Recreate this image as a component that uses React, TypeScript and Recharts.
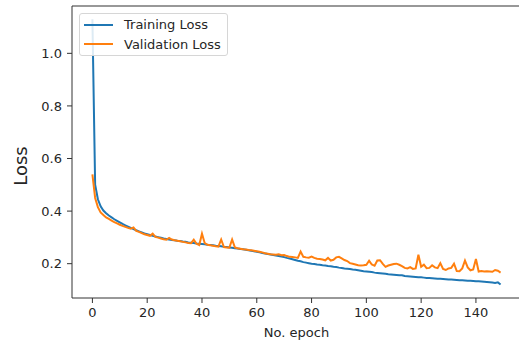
import React from "react";
import { LineChart, Line, XAxis, YAxis, Legend, ReferenceLine, Label } from "recharts";

const trainingLoss: number[] = [
  1.13, 0.50, 0.445, 0.418, 0.402, 0.392, 0.383, 0.376, 0.369, 0.363,
  0.357, 0.351, 0.346, 0.341, 0.336, 0.332, 0.327, 0.323, 0.319, 0.315,
  0.312, 0.309, 0.306, 0.303, 0.301, 0.299, 0.296, 0.294, 0.292, 0.290,
  0.289, 0.287, 0.286, 0.284, 0.283, 0.281, 0.280, 0.279, 0.277, 0.276,
  0.275, 0.274, 0.272, 0.271, 0.270, 0.268, 0.267, 0.266, 0.264, 0.263,
  0.262, 0.261, 0.259, 0.258, 0.256, 0.255, 0.253, 0.251, 0.249, 0.247,
  0.245, 0.243, 0.241, 0.239, 0.237, 0.235, 0.233, 0.231, 0.229, 0.227,
  0.225, 0.222, 0.220, 0.217, 0.214, 0.211, 0.209, 0.206, 0.204, 0.202,
  0.200, 0.199, 0.197, 0.196, 0.194, 0.193, 0.191, 0.190, 0.188, 0.187,
  0.185, 0.184, 0.182, 0.181, 0.180, 0.178, 0.177, 0.175, 0.173, 0.171,
  0.170, 0.169, 0.168, 0.166, 0.165, 0.164, 0.163, 0.162, 0.160, 0.159,
  0.158, 0.157, 0.156, 0.156, 0.153, 0.152, 0.151, 0.150, 0.149, 0.148,
  0.148, 0.147, 0.146, 0.146, 0.145, 0.144, 0.143, 0.143, 0.142, 0.141,
  0.140, 0.140, 0.139, 0.138, 0.137, 0.137, 0.136, 0.135, 0.135, 0.134,
  0.133, 0.133, 0.132, 0.131, 0.130, 0.129, 0.128, 0.127, 0.129, 0.121,
];

const validationLoss: number[] = [
  0.54, 0.45, 0.415, 0.395, 0.385, 0.376, 0.370, 0.364, 0.358, 0.353,
  0.348, 0.344, 0.340, 0.336, 0.333, 0.338, 0.325, 0.321, 0.316, 0.312,
  0.309, 0.306, 0.314, 0.302, 0.299, 0.296, 0.293, 0.291, 0.298, 0.292,
  0.289, 0.287, 0.285, 0.283, 0.281, 0.279, 0.278, 0.291, 0.276, 0.271,
  0.314, 0.278, 0.272, 0.270, 0.268, 0.266, 0.265, 0.292, 0.263, 0.262,
  0.261, 0.292, 0.262, 0.259, 0.257, 0.255, 0.254, 0.252, 0.251, 0.249,
  0.247, 0.245, 0.243, 0.240, 0.238, 0.236, 0.235, 0.234, 0.236, 0.232,
  0.233, 0.229, 0.226, 0.225, 0.224, 0.222, 0.246, 0.226, 0.224, 0.223,
  0.227, 0.222, 0.219, 0.218, 0.216, 0.213, 0.222, 0.212, 0.215, 0.224,
  0.226, 0.220, 0.214, 0.210, 0.202, 0.200, 0.197, 0.194, 0.193, 0.194,
  0.196, 0.211, 0.197, 0.192, 0.212, 0.213, 0.199, 0.188, 0.193, 0.196,
  0.199, 0.200, 0.196, 0.191, 0.184, 0.182, 0.187, 0.180, 0.182, 0.234,
  0.188, 0.196, 0.183, 0.184, 0.194, 0.186, 0.183, 0.202, 0.180, 0.176,
  0.182, 0.184, 0.200, 0.172, 0.171, 0.182, 0.212, 0.186, 0.175, 0.178,
  0.218, 0.170, 0.172, 0.170, 0.171, 0.170, 0.169, 0.176, 0.173, 0.166,
];

const xTicks: number[] = [0, 20, 40, 60, 80, 100, 120, 140];
const yTicks: number[] = [0.2, 0.4, 0.6, 0.8, 1.0];
const X_DOMAIN: [number, number] = [-7.45, 156.45];
const Y_DOMAIN: [number, number] = [0.0695, 1.18];

const data = trainingLoss.map((t, i) => ({
  epoch: i,
  training: t,
  validation: validationLoss[i],
}));

const FONT = "'DejaVu Sans', sans-serif";
const TEXT = "#262626";

const renderLegend = (props: any) => {
  const payload = props.payload || [];
  return (
    <div
      style={{
        width: 149,
        height: 43,
        border: "1px solid #d6d6d6",
        borderRadius: 3,
        background: "rgba(255,255,255,0.85)",
        fontFamily: FONT,
        fontSize: 13,
        color: TEXT,
        paddingTop: 1,
        boxSizing: "border-box",
      }}
    >
      {payload.map((entry: any, i: number) => (
        <div
          key={i}
          style={{ display: "flex", alignItems: "center", height: 19.4, whiteSpace: "nowrap" }}
        >
          <svg width={44} height={6} style={{ display: "block" }}>
            <line x1={4} y1={3} x2={33} y2={3} stroke={entry.color} strokeWidth={2} />
          </svg>
          <span>{entry.value}</span>
        </div>
      ))}
    </div>
  );
};

export default function App() {
  return (
    <div
      style={{
        position: "absolute",
        left: 0,
        top: 0,
        width: 519,
        height: 341,
        overflow: "hidden",
        background: "#fff",
      }}
    >
      <LineChart
        width={530}
        height={341}
        data={data}
        margin={{ top: 6, right: 9, bottom: 0, left: 0 }}
      >
        <XAxis
          dataKey="epoch"
          type="number"
          domain={X_DOMAIN}
          ticks={xTicks}
          allowDataOverflow
          height={43}
          tickSize={5}
          tickMargin={5}
          stroke="#333"
          tick={{ fill: TEXT, fontSize: 13, fontFamily: FONT }}
        >
          <Label
            value="No. epoch"
            position="insideBottom"
            offset={4}
            style={{ fill: TEXT, fontSize: 13, fontFamily: FONT }}
          />
        </XAxis>
        <YAxis
          type="number"
          domain={Y_DOMAIN}
          ticks={yTicks}
          allowDataOverflow
          width={72}
          tickSize={5}
          tickMargin={5}
          stroke="#333"
          tickFormatter={(v: number) => v.toFixed(1)}
          tick={{ fill: TEXT, fontSize: 13, fontFamily: FONT }}
        >
          <Label
            content={(p: any) => {
              const vb = p.viewBox || { x: 0, y: 6, width: 72, height: 292 };
              const cx = vb.x + 20;
              const cy = vb.y + vb.height / 2 + 14;
              return (
                <text
                  transform={`translate(${cx},${cy}) rotate(-90)`}
                  textAnchor="middle"
                  dominantBaseline="central"
                  fill={TEXT}
                  fontSize={18}
                  fontFamily={FONT}
                >
                  Loss
                </text>
              );
            }}
          />
        </YAxis>
        <ReferenceLine y={Y_DOMAIN[1]} stroke="#333" strokeWidth={1.2} />
        <ReferenceLine x={X_DOMAIN[1]} stroke="#333" strokeWidth={1.2} />
        <Line
          type="linear"
          dataKey="training"
          name="Training Loss"
          stroke="#1f77b4"
          strokeWidth={2}
          dot={false}
          isAnimationActive={false}
        />
        <Line
          type="linear"
          dataKey="validation"
          name="Validation Loss"
          stroke="#ff7f0e"
          strokeWidth={2}
          dot={false}
          isAnimationActive={false}
        />
        <Legend
          content={renderLegend}
          layout="horizontal"
          verticalAlign="middle"
          align="center"
          wrapperStyle={{ left: 79, top: 13, width: 149, height: 43 }}
        />
      </LineChart>
    </div>
  );
}
